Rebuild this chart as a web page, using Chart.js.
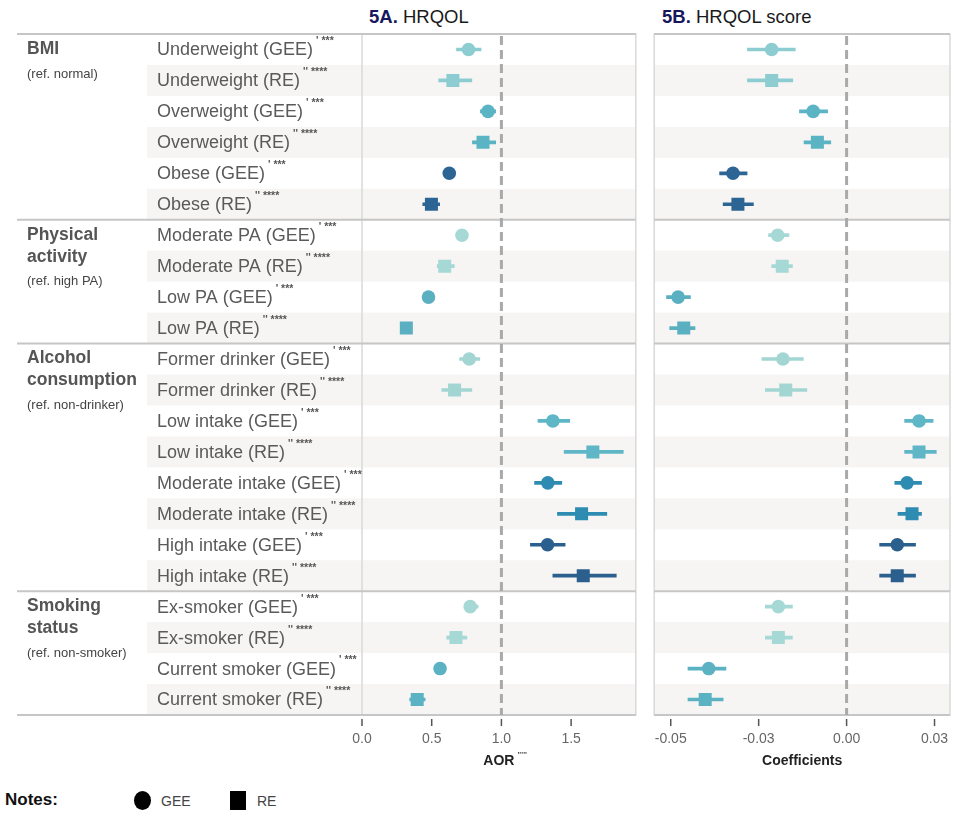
<!DOCTYPE html>
<html><head><meta charset="utf-8">
<script src="https://cdn.jsdelivr.net/npm/chart.js@4.4.1/dist/chart.umd.min.js"></script>
<style>
html,body{margin:0;padding:0;background:#fff;}
body{width:962px;height:822px;position:relative;overflow:hidden;font-family:"Liberation Sans",Arial,sans-serif;}
canvas{position:absolute;top:0;}
.ttl{position:absolute;top:6px;font-size:18.5px;line-height:22px;color:#1a1a1a;white-space:nowrap;}
.ttl b{color:#17175e;}
.lg{position:absolute;white-space:nowrap;}
</style></head><body>
<div class="ttl" style="left:369px"><b>5A.</b> HRQOL</div>
<div class="ttl" style="left:662px"><b>5B.</b> HRQOL score</div>
<canvas id="cA" width="645" height="775" style="left:0;width:645px;height:775px"></canvas>
<canvas id="cB" width="317" height="775" style="left:645px;width:317px;height:775px"></canvas>
<div class="lg" style="left:5px;top:790px;font-weight:bold;font-size:17px;color:#111">Notes:</div>
<div class="lg" style="left:134px;top:791px;width:17px;height:19px;border-radius:50%;background:#000"></div>
<div class="lg" style="left:161px;top:793px;font-size:14px;color:#444;font-family:'Liberation Sans Narrow','Liberation Sans',Arial">GEE</div>
<div class="lg" style="left:230px;top:791px;width:16px;height:19px;background:#000"></div>
<div class="lg" style="left:257px;top:793px;font-size:14px;color:#444;font-family:'Liberation Sans Narrow','Liberation Sans',Arial">RE</div>
<script>
// ---- categories ----
const rowLabels = [
  'Underweight (GEE)','Underweight (RE)','Overweight (GEE)','Overweight (RE)','Obese (GEE)','Obese (RE)',
  'Moderate PA (GEE)','Moderate PA (RE)','Low PA (GEE)','Low PA (RE)',
  'Former drinker (GEE)','Former drinker (RE)','Low intake (GEE)','Low intake (RE)',
  'Moderate intake (GEE)','Moderate intake (RE)','High intake (GEE)','High intake (RE)',
  'Ex-smoker (GEE)','Ex-smoker (RE)','Current smoker (GEE)','Current smoker (RE)'
];
const rowMarks = rowLabels.map(l => l.indexOf('(GEE)') >= 0 ? "' ***" : "'' ****");
const groupNames = [['BMI'], ['Physical','activity'], ['Alcohol','consumption'], ['Smoking','status']];
const groupRefs = ['(ref. normal)', '(ref. high PA)', '(ref. non-drinker)', '(ref. non-smoker)'];
const groupStarts = [0, 6, 10, 18];

// ---- 5A: AOR ----
const aorEst = [0.764,0.652,0.904,0.868,0.626,0.498,0.717,0.593,0.477,0.318,0.769,0.664,1.369,1.656,1.333,1.575,1.331,1.587,0.776,0.674,0.560,0.396];
const aorLo  = [0.678,0.550,0.849,0.792,0.600,0.436,0.680,0.539,0.455,0.295,0.700,0.572,1.262,1.450,1.238,1.402,1.208,1.369,0.740,0.607,0.535,0.342];
const aorHi  = [0.854,0.788,0.959,0.959,0.652,0.557,0.750,0.662,0.500,0.342,0.845,0.788,1.490,1.874,1.433,1.756,1.457,1.824,0.833,0.752,0.588,0.453];
const aorTicks = [0, 0.5, 1.0, 1.5];
const aorTickLabels = ['0.0','0.5','1.0','1.5'];

// ---- 5B: coefficients ----
const coefEst = [-0.0213,-0.0213,-0.0095,-0.0083,-0.0323,-0.0309,-0.0196,-0.0183,-0.0479,-0.0463,-0.0181,-0.0173,0.0206,0.0206,0.0172,0.0186,0.0144,0.0144,-0.0194,-0.0194,-0.0392,-0.0402];
const coefLo  = [-0.0282,-0.0282,-0.0134,-0.0121,-0.0361,-0.0351,-0.0222,-0.0213,-0.0512,-0.0503,-0.0241,-0.0231,0.0165,0.0165,0.0137,0.0146,0.0094,0.0094,-0.0231,-0.0231,-0.0451,-0.0451];
const coefHi  = [-0.0146,-0.0153,-0.0054,-0.0045,-0.0283,-0.0265,-0.0164,-0.0154,-0.0444,-0.0431,-0.0123,-0.0113,0.0246,0.0255,0.0213,0.0213,0.0196,0.0196,-0.0154,-0.0154,-0.0343,-0.0351];
const coefTicks = [-0.05, -0.025, 0, 0.025];
const coefTickLabels = ['-0.05','-0.03','0.00','0.03'];

// ---- styles ----
const rowColors = ['#8dcdd2','#8dcdd2','#5bb4c3','#5bb4c3','#2c6594','#2c6594',
  '#a6d9d6','#a6d9d6','#5ab0c1','#5ab0c1',
  '#a3d6d3','#a3d6d3','#5fb6c6','#5fb6c6','#2e8bb1','#2e8bb1','#2a5f8e','#2a5f8e',
  '#a6d9d6','#a6d9d6','#5bb2c3','#5bb2c3'];
const shapes = rowLabels.map(l => l.indexOf('(GEE)') >= 0 ? 'circle' : 'rect');
const radii = shapes.map(s => s === 'circle' ? 6.8 : 9.2);
const FONT = '"Liberation Sans", Arial, sans-serif';

function panelPlugin(cfg) {
  return {
    id: 'panel' + cfg.key,
    beforeDraw(chart) {
      const {ctx, chartArea: ca, scales: {y}} = chart;
      const rowH = y.getPixelForValue(1) - y.getPixelForValue(0);
      const left = cfg.shadeLeft != null ? cfg.shadeLeft : ca.left;
      ctx.save();
      ctx.fillStyle = '#f7f5f3';
      rowLabels.forEach((_, i) => {
        if (i % 2 === 1) {
          const yc = y.getPixelForValue(i);
          ctx.fillRect(left, yc - rowH / 2, ca.right - left, rowH);
        }
      });
      ctx.restore();
    },
    beforeDatasetsDraw(chart) {
      const {ctx, chartArea: ca, scales: {x, y}} = chart;
      const rowH = y.getPixelForValue(1) - y.getPixelForValue(0);
      ctx.save();
      ctx.strokeStyle = '#d9d9d9'; ctx.lineWidth = 1.5;
      ctx.strokeRect(ca.left, ca.top, ca.right - ca.left, ca.bottom - ca.top);
      const lineLeft = cfg.lineLeft != null ? cfg.lineLeft : ca.left;
      ctx.strokeStyle = '#c6c6c6'; ctx.lineWidth = 2;
      groupStarts.forEach(s => {
        const yb = s === 0 ? ca.top : y.getPixelForValue(s) - rowH / 2;
        ctx.beginPath(); ctx.moveTo(lineLeft, yb); ctx.lineTo(ca.right, yb); ctx.stroke();
      });
      ctx.beginPath(); ctx.moveTo(lineLeft, ca.bottom); ctx.lineTo(ca.right, ca.bottom); ctx.stroke();
      const xr = x.getPixelForValue(cfg.refValue);
      ctx.strokeStyle = '#a9a9a9'; ctx.lineWidth = 3; ctx.setLineDash([9, 5]);
      ctx.beginPath(); ctx.moveTo(xr, ca.top + 2); ctx.lineTo(xr, ca.bottom); ctx.stroke();
      ctx.restore();
    },
    afterDraw(chart) {
      const {ctx, chartArea: ca, scales: {x, y}} = chart;
      ctx.save();
      ctx.strokeStyle = '#555'; ctx.lineWidth = 1.5;
      x.ticks.forEach(t => {
        const px = x.getPixelForValue(t.value);
        ctx.beginPath(); ctx.moveTo(px, ca.bottom + 4); ctx.lineTo(px, ca.bottom + 11); ctx.stroke();
      });
      if (cfg.labels) {
        const rowH = y.getPixelForValue(1) - y.getPixelForValue(0);
        ctx.textAlign = 'left'; ctx.textBaseline = 'middle';
        rowLabels.forEach((lab, i) => {
          const yc = y.getPixelForValue(i) + 1;
          ctx.font = '18px ' + FONT; ctx.fillStyle = '#5a5a5a';
          ctx.fillText(lab, 157, yc);
          const w = ctx.measureText(lab).width;
          ctx.font = 'bold 10.5px ' + FONT; ctx.fillStyle = '#555';
          ctx.fillText(rowMarks[i], 157 + w + 3, yc - 9);
        });
        groupStarts.forEach((s, g) => {
          const top = y.getPixelForValue(s) - rowH / 2;
          ctx.font = 'bold 17.5px ' + FONT; ctx.fillStyle = '#555';
          let yy = top + 15;
          groupNames[g].forEach((line, k) => { if (k > 0) yy += 22; ctx.fillText(line, 27, yy); });
          ctx.font = '13px ' + FONT; ctx.fillStyle = '#444';
          ctx.fillText(groupRefs[g], 27, yy + 25);
        });
        ctx.font = 'bold 14px ' + FONT;
        const tw = ctx.measureText('AOR').width;
        ctx.font = 'bold 8px ' + FONT; ctx.fillStyle = '#444';
        ctx.fillText("'''''", (ca.left + ca.right) / 2 + tw / 2 + 3, 755);
      }
      ctx.restore();
    }
  };
}

function makeChart(id, est, lo, hi, ticks, tickLabels, min, max, title, plugCfg, pad) {
  return new Chart(document.getElementById(id), {
    type: 'bar',
    data: {
      labels: rowLabels,
      datasets: [
        { type: 'bar', data: lo.map((l, i) => [l, hi[i]]), backgroundColor: rowColors,
          barThickness: 3, grouped: false, borderWidth: 0, order: 1 },
        { type: 'scatter', data: est.map((v, i) => ({x: v, y: rowLabels[i]})),
          pointStyle: shapes, pointRadius: radii, backgroundColor: rowColors,
          borderWidth: 0, order: 0 }
      ]
    },
    options: {
      indexAxis: 'y', responsive: false, animation: false, devicePixelRatio: 1,
      layout: {padding: pad},
      plugins: {legend: {display: false}, tooltip: {enabled: false}, title: {display: false}},
      scales: {
        y: {type: 'category', display: false, offset: true},
        x: {
          type: 'linear', position: 'bottom', min: min, max: max,
          grid: {display: false, drawTicks: false}, border: {display: false},
          afterBuildTicks: s => { s.ticks = ticks.map(v => ({value: v})); },
          afterFit: s => { s.height = 60; s.paddingLeft = 0; s.paddingRight = 0; },
          ticks: {
            padding: 16, color: '#666', font: {family: FONT, size: 14},
            callback: (v) => { const k = ticks.findIndex(t => Math.abs(t - v) < 1e-9); return k >= 0 ? tickLabels[k] : ''; }
          },
          title: {display: true, text: title, color: '#222', font: {family: FONT, size: 14, weight: 'bold'}, padding: {top: 0, bottom: 5}}
        }
      }
    },
    plugins: [panelPlugin(plugCfg)]
  });
}

makeChart('cA', aorEst, aorLo, aorHi, aorTicks, aorTickLabels, 0, 1.964, 'AOR',
  {key: 'A', refValue: 1, shadeLeft: 147, lineLeft: 17, labels: true},
  {left: 362, right: 7, top: 34, bottom: 0});
makeChart('cB', coefEst, coefLo, coefHi, coefTicks, coefTickLabels, -0.0547, 0.0294, 'Coefficients',
  {key: 'B', refValue: 0, labels: false},
  {left: 8, right: 12, top: 34, bottom: 0});
</script>
</body></html>
